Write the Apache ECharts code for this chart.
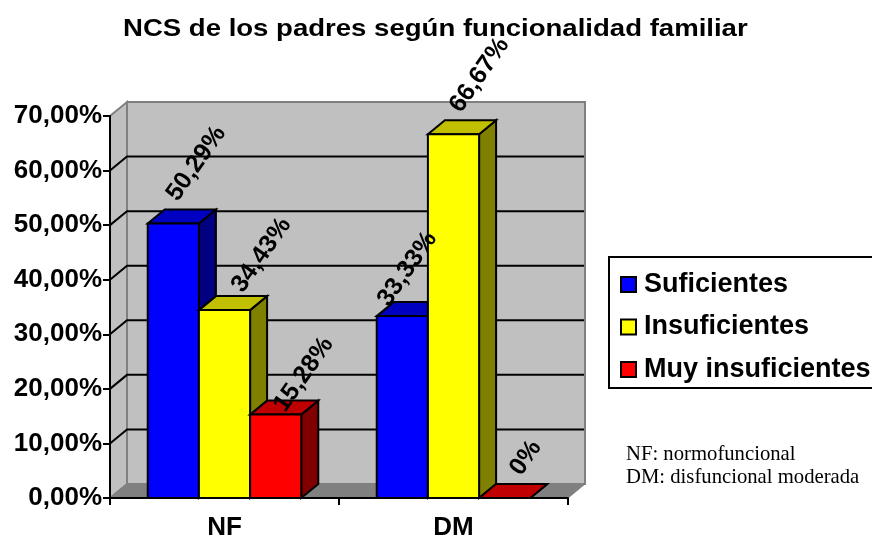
<!DOCTYPE html>
<html>
<head>
<meta charset="utf-8">
<style>
  html, body { margin: 0; padding: 0; background: #fff; }
  #chart { width: 872px; height: 538px; }
</style>
<script src="https://cdn.jsdelivr.net/npm/echarts@6/dist/echarts.min.js"></script>
</head>
<body>
<div id="chart"></div>
<script>
const categories = ['NF', 'DM'];
const suficientes = [50.29, 33.33];
const insuficientes = [34.43, 66.67];
const muyInsuficientes = [15.28, 0];
const yTicks = [0, 10, 20, 30, 40, 50, 60, 70];

// depth of the fake 3d box, in pixels
const DX = 17;
const DY = 14;
const LABEL_ROT = 55 * Math.PI / 180;
const FONT = '"Liberation Sans", Arial, sans-serif';
const SERIF = '"Liberation Serif", serif';

const pct = (v) => v.toFixed(2).replace('.', ',') + '%';
const barPct = (v) => (v === 0 ? '0%' : pct(v));

const seriesInfo = [
    {name: 'Suficientes', values: suficientes, front: '#0000ff', top: '#0000c0', side: '#000080'},
    {name: 'Insuficientes', values: insuficientes, front: '#ffff00', top: '#c0c000', side: '#808000'},
    {name: 'Muy insuficientes', values: muyInsuficientes, front: '#ff0000', top: '#c00000', side: '#800000'}
];

// label centre relative to the bar top, one pair per bar
const labelShift = [
    [[23, -60], [5, -47]],
    [[37, -55], [26, -59]],
    [[28, -40], [21, -40]]
];

const poly = (points, fill, stroke, lineWidth) => ({
    type: 'polygon',
    shape: {points: points},
    style: {fill: fill, stroke: stroke, lineWidth: lineWidth}
});

const barX = (api, cat, idx) => {
    const w = api.size([1, 0])[0] * 0.2235;
    const cx = api.coord([cat, 0])[0] + (idx - 1) * w;
    return {l: cx - w / 2, r: cx + w / 2, cx: cx};
};

const renderWalls = (params, api) => {
    const x0 = api.coord([0, 0])[0] - api.size([1, 0])[0] / 2;
    const x1 = x0 + api.size([1, 0])[0] * categories.length;
    const y0 = api.coord([0, 0])[1];
    const y1 = api.coord([0, 70])[1];
    return {
        type: 'group',
        children: [
            poly([[x0 + DX, y0 - DY], [x0 + DX, y1 - DY], [x1 + DX, y1 - DY], [x1 + DX, y0 - DY]], '#c0c0c0', '#808080', 2),
            poly([[x0, y0], [x0, y1], [x0 + DX, y1 - DY], [x0 + DX, y0 - DY]], '#c0c0c0', '#808080', 2),
            poly([[x0, y0], [x0 + DX, y0 - DY], [x1 + DX, y0 - DY], [x1, y0]], '#808080', '#808080', 1)
        ]
    };
};

const renderGridLine = (params, api) => {
    const v = api.value(0);
    if (v === 0 || v === 70) return null;
    const y = api.coord([0, v])[1];
    const x0 = api.coord([0, 0])[0] - api.size([1, 0])[0] / 2;
    const x1 = x0 + api.size([1, 0])[0] * categories.length;
    return {
        type: 'polyline',
        shape: {points: [[x0, y], [x0 + DX, y - DY], [x1 + DX - 1, y - DY]]},
        style: {fill: null, stroke: '#000', lineWidth: 2}
    };
};

const makeBarRender = (info, idx) => (params, api) => {
    const cat = api.value(0);
    const b = barX(api, cat, idx);
    const y0 = api.coord([cat, 0])[1];
    const y = api.coord([cat, api.value(1)])[1];
    return {
        type: 'group',
        children: [
            poly([[b.r, y0], [b.r, y], [b.r + DX, y - DY], [b.r + DX, y0 - DY]], info.side, '#000', 2),
            poly([[b.l, y], [b.l + DX, y - DY], [b.r + DX, y - DY], [b.r, y]], info.top, '#000', 2),
            poly([[b.l, y0], [b.l, y], [b.r, y], [b.r, y0]], info.front, '#000', 2)
        ]
    };
};

const renderBarLabel = (params, api) => {
    const cat = api.value(0);
    const idx = api.value(2);
    const b = barX(api, cat, idx);
    const y = api.coord([cat, api.value(1)])[1];
    const shift = labelShift[idx][cat];
    return {
        type: 'text',
        x: b.cx + shift[0],
        y: y + shift[1],
        rotation: LABEL_ROT,
        style: {
            text: barPct(api.value(1)),
            font: 'bold 25px ' + FONT,
            fill: '#000',
            align: 'center',
            verticalAlign: 'middle'
        }
    };
};

let labelData = [];
seriesInfo.forEach((info, idx) => {
    info.values.forEach((v, cat) => labelData.push([cat, v, idx]));
});

const option = {
    animation: false,
    backgroundColor: '#fff',
    legend: {
        orient: 'vertical',
        left: 609,
        top: 257,
        data: seriesInfo.map((s) => s.name),
        icon: 'rect',
        itemWidth: 15,
        itemHeight: 15,
        itemGap: 15.5,
        padding: [14, 8, 5, 11],
        borderColor: '#000',
        borderWidth: 2,
        backgroundColor: '#fff',
        selectedMode: false,
        textStyle: {fontFamily: FONT, fontWeight: 'bold', fontSize: 27, color: '#000', padding: [0, 0, 0, 3]}
    },
    grid: {left: 110, top: 116, width: 458, height: 382, containLabel: false, outerBoundsMode: 'none'},
    xAxis: {
        type: 'category',
        data: categories,
        z: 10,
        axisLine: {show: true, lineStyle: {color: '#000', width: 2}},
        axisTick: {show: true, length: 7, lineStyle: {color: '#000', width: 2}},
        axisLabel: {fontFamily: FONT, fontWeight: 'bold', fontSize: 26, color: '#000', margin: 17},
        splitLine: {show: false}
    },
    yAxis: {
        type: 'value',
        min: 0,
        max: 70,
        interval: 10,
        z: 10,
        axisLine: {show: true, lineStyle: {color: '#000', width: 2}},
        axisTick: {show: true, length: 7, lineStyle: {color: '#000', width: 2}},
        axisLabel: {formatter: pct, fontFamily: FONT, fontWeight: 'bold', fontSize: 26, color: '#000', margin: 8},
        splitLine: {show: false}
    },
    series: [
        {type: 'custom', name: 'walls', silent: true, z: 1, renderItem: renderWalls, data: [[0, 0]], clip: false},
        {type: 'custom', name: 'lines', silent: true, z: 2, renderItem: renderGridLine,
            encode: {x: 1, y: 0}, data: yTicks.map((t) => [t, 0]), clip: false}
    ].concat(seriesInfo.map((info, idx) => ({
        type: 'custom',
        name: info.name,
        silent: true,
        z: 3 + idx,
        clip: false,
        itemStyle: {color: info.front, borderColor: '#000', borderWidth: 2},
        renderItem: makeBarRender(info, idx),
        encode: {x: 0, y: 1},
        data: info.values.map((v, cat) => [cat, v])
    }))).concat([
        {type: 'custom', name: 'labels', silent: true, z: 8, clip: false, renderItem: renderBarLabel,
            encode: {x: 0, y: 1}, data: labelData}
    ]),
    graphic: [
        // title is stretched a bit since the original is letter spaced
        {type: 'text', x: 123, y: 29, scaleX: 1.148, silent: true,
            style: {text: 'NCS de los padres según funcionalidad familiar', font: 'bold 24px ' + FONT,
                fill: '#000', verticalAlign: 'middle'}},
        {type: 'text', x: 626, y: 455, silent: true,
            style: {text: 'NF: normofuncional', font: '20.7px ' + SERIF, fill: '#000', verticalAlign: 'middle'}},
        {type: 'text', x: 626, y: 478, silent: true,
            style: {text: 'DM: disfuncional moderada', font: '20.7px ' + SERIF, fill: '#000', verticalAlign: 'middle'}}
    ]
};

const chart = echarts.init(document.getElementById('chart'));
chart.setOption(option);
</script>
</body>
</html>
